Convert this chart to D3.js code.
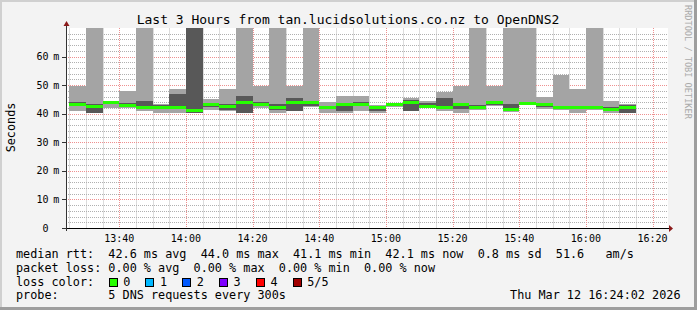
<!DOCTYPE html>
<html>
<head>
    <meta charset="utf-8">
    <title>SmokePing - OpenDNS2</title>
    <script src="https://cdn.jsdelivr.net/npm/d3@7/dist/d3.min.js"></script>
    <style>
        body { margin: 0; background: #ffffff; }
        svg text { font-family: "DejaVu Sans Mono", monospace; white-space: pre; }
    </style>
</head>
<body>
    <svg width="697" height="310" id="mainsvg"></svg>
    <script>
        // 5 minute bins, start time of each bin
        const binTimes = ['13:25', '13:30', '13:35', '13:40', '13:45', '13:50', '13:55', '14:00', '14:05', '14:10',
            '14:15', '14:20', '14:25', '14:30', '14:35', '14:40', '14:45', '14:50', '14:55', '15:00',
            '15:05', '15:10', '15:15', '15:20', '15:25', '15:30', '15:35', '15:40', '15:45', '15:50',
            '15:55', '16:00', '16:05', '16:10'];
        // grid times
        const minorTimes = ['13:25', '13:30', '13:35', '13:45', '13:50', '13:55', '14:05', '14:10', '14:15', '14:25',
            '14:30', '14:35', '14:45', '14:50', '14:55', '15:05', '15:10', '15:15', '15:25', '15:30', '15:35',
            '15:45', '15:50', '15:55', '16:05', '16:10', '16:15'];
        const majorTimes = ['13:40', '14:00', '14:20', '14:40', '15:00', '15:20', '15:40', '16:00', '16:20'];
        // sorted pings per bin (ms); 80 = above the top of the graph
        const ping1 = [41.0, 40.3, 42.0, 42.0, 41.0, 40.2, 40.2, 40.1, 41.2, 41.0, 40.1, 41.9, 40.2, 41.0, 42.2, 40.2, 40.2,
            41.0, 40.2, 42.3, 41.0, 42.0, 41.0, 40.2, 41.3, 42.7, 40.6, 43.0, 41.6, 41.3, 40.2, 41.4, 40.4, 40.2];
        const ping2 = [42.9, 40.4, 43.5, 42.3, 41.8, 41.8, 41.9, 40.2, 42.5, 41.3, 40.4, 42.8, 41.4, 41.1, 42.6, 41.9, 41.0,
            42.8, 41.0, 42.8, 41.1, 42.2, 41.7, 41.5, 41.7, 43.2, 40.8, 43.1, 42.3, 41.9, 41.6, 41.9, 40.8, 40.3];
        const medianRtt = [43.3, 42.5, 44.0, 43.0, 42.1, 42.1, 42.1, 41.1, 43.2, 42.4, 44.0, 43.1, 42.3, 44.0, 44.0, 42.2, 43.2,
            43.3, 42.3, 43.1, 44.0, 42.6, 42.2, 43.2, 42.1, 44.0, 41.5, 43.5, 43.1, 42.1, 42.1, 42.1, 41.4, 42.1];
        const ping4 = [44.2, 43.3, 44.4, 43.8, 44.3, 43.0, 47.0, 80, 43.5, 43.5, 46.3, 44.1, 43.5, 45.4, 44.3, 42.6, 43.8,
            44.0, 42.8, 43.5, 44.9, 43.7, 45.4, 43.6, 42.9, 44.5, 43.3, 44.2, 43.3, 42.8, 42.6, 42.8, 42.4, 43.2];
        const ping5 = [49.8, 80, 44.6, 47.8, 80, 43.3, 48.8, 80, 45.3, 48.8, 80, 49.8, 80, 49.8, 80, 44.2, 46.3,
            46.3, 43.0, 43.8, 45.4, 44.5, 47.5, 49.8, 80, 49.8, 80, 80, 45.8, 53.7, 48.8, 80, 44.3, 43.3];

        const yTicks = [0, 10, 20, 30, 40, 50, 60];
        const medianStats = [42.6, 44.0, 41.1, 42.1]; // avg max min now
        const lossStats = [0, 0, 0, 0];
        const lossLabels = ['0', '1', '2', '3', '4', '5/5'];
        const lossColors = ['#26ff00', '#00b8ff', '#0059ff', '#7e00ff', '#ff0000', '#a10000'];

        const svg = d3.select('#mainsvg');
        const width = +svg.attr('width');
        const height = +svg.attr('height');
        const plot = { left: 66, right: 666, top: 28, bottom: 228 };
        const day = '2026-03-12 ';
        const parse = d3.timeParse('%Y-%m-%d %H:%M:%S');
        const at = hm => parse(day + hm + ':00');
        const tEnd = parse(day + '16:24:02');
        const tStart = parse(day + '13:24:02');

        const xScale = d3.scaleTime().domain([tStart, tEnd]).range([plot.left, plot.right]);
        const yScale = d3.scaleLinear().domain([0, 70]).range([plot.bottom, plot.top]);

        // canvas + 3d frame
        svg.append('rect').attr('width', width).attr('height', height).attr('fill', '#f3f3f3');
        svg.append('path').attr('d', `M1,${height} V1 H${width}`).attr('fill', 'none')
            .attr('stroke', '#d0d0d0').attr('stroke-width', 2);
        svg.append('path').attr('d', `M0,${height - 1.5} H${width - 1.5} V0`).attr('fill', 'none')
            .attr('stroke', '#9e9e9e').attr('stroke-width', 3);

        svg.append('rect')
            .attr('x', plot.left).attr('y', plot.top)
            .attr('width', plot.right - plot.left + 2).attr('height', plot.bottom - plot.top)
            .attr('fill', '#ffffff');

        svg.append('clipPath').attr('id', 'plotclip').append('rect')
            .attr('x', plot.left).attr('y', plot.top)
            .attr('width', plot.right - plot.left).attr('height', plot.bottom - plot.top);

        // grid (minor every 5 min / 2 ms, major every 20 min / 10 ms)
        const minorT = minorTimes.map(at);
        const majorT = majorTimes.map(at);
        const minorY = d3.range(2, 70, 2).filter(v => v % 10 !== 0);
        const majorY = yTicks.filter(v => v > 0);

        const grid = svg.append('g').attr('fill', 'none').attr('stroke-width', 1).attr('shape-rendering', 'crispEdges');
        const vPath = times => times.map(t => `M${Math.round(xScale(t)) + 0.5},${plot.top}V${plot.bottom}`).join('');
        const hPath = values => values.map(v => `M${plot.left},${Math.round(yScale(v)) + 0.5}H${plot.right + 2}`).join('');
        grid.append('path').attr('d', vPath(minorT)).attr('stroke', '#dcdcdc');
        grid.append('path').attr('d', hPath(minorY)).attr('stroke', '#b0b0b0').attr('stroke-dasharray', '1 1');
        grid.append('path').attr('d', hPath(majorY) + vPath(majorT)).attr('stroke', '#ee9090').attr('stroke-dasharray', '1 1');

        // smoke + median
        const bins = binTimes.map((t, i) => ({
            t0: at(t),
            t1: d3.timeMinute.offset(at(t), 5),
            p1: ping1[i], p2: ping2[i], med: medianRtt[i], p4: ping4[i], p5: ping5[i]
        }));
        const data = svg.append('g').attr('clip-path', 'url(#plotclip)').attr('shape-rendering', 'crispEdges');
        const bx = d => Math.round(xScale(d.t0));
        const bw = d => Math.round(xScale(d.t1)) - Math.round(xScale(d.t0));

        data.selectAll('.outer').data(bins).join('rect').attr('class', 'outer')
            .attr('x', bx).attr('width', bw)
            .attr('y', d => Math.round(yScale(d.p5)))
            .attr('height', d => Math.round(yScale(d.p1)) - Math.round(yScale(d.p5)))
            .attr('fill', '#a4a4a4');
        data.selectAll('.inner').data(bins).join('rect').attr('class', 'inner')
            .attr('x', bx).attr('width', bw)
            .attr('y', d => Math.round(yScale(d.p4)))
            .attr('height', d => Math.round(yScale(d.p2)) - Math.round(yScale(d.p4)))
            .attr('fill', '#585858');
        data.selectAll('.median').data(bins).join('rect').attr('class', 'median')
            .attr('x', bx).attr('width', bw)
            .attr('y', d => Math.round(yScale(d.med) - 1.5))
            .attr('height', 3)
            .attr('fill', lossColors[0]);

        // axes
        const axes = svg.append('g').attr('shape-rendering', 'crispEdges');
        axes.append('line').attr('x1', plot.left - 3).attr('x2', plot.right + 3)
            .attr('y1', plot.bottom + 0.5).attr('y2', plot.bottom + 0.5).attr('stroke', '#000');
        axes.append('line').attr('x1', plot.left + 0.5).attr('x2', plot.left + 0.5)
            .attr('y1', plot.bottom + 3).attr('y2', plot.top - 2).attr('stroke', '#333');
        axes.selectAll('.ytick').data(yTicks).join('line').attr('class', 'ytick')
            .attr('x1', plot.left - 4).attr('x2', plot.left)
            .attr('y1', d => Math.round(yScale(d)) + 0.5).attr('y2', d => Math.round(yScale(d)) + 0.5)
            .attr('stroke', '#333');
        svg.append('path')
            .attr('d', `M${plot.right + 3},${plot.bottom - 3} L${plot.right + 7},${plot.bottom + 0.5} L${plot.right + 3},${plot.bottom + 4} Z`)
            .attr('fill', '#8b1a1a');
        svg.append('path')
            .attr('d', `M${plot.left - 2.5},${plot.top - 2} L${plot.left + 0.5},${plot.top - 7} L${plot.left + 3.5},${plot.top - 2} Z`)
            .attr('fill', '#8b1a1a');

        const yLab = svg.append('g').attr('font-size', '10px').attr('fill', '#000');
        yLab.selectAll('.yv').data(yTicks).join('text').attr('class', 'yv')
            .attr('x', 48.5).attr('y', d => yScale(d) + 3.5)
            .attr('text-anchor', 'end').text(d => d);
        yLab.selectAll('.yu').data(yTicks.filter(v => v > 0)).join('text').attr('class', 'yu')
            .attr('x', 53.3).attr('y', d => yScale(d) + 3.5).text('m');

        svg.append('g').attr('font-size', '10px').attr('fill', '#000')
            .selectAll('text').data(majorT).join('text')
            .attr('x', d => xScale(d)).attr('y', 241.5)
            .attr('text-anchor', 'middle')
            .text(d3.timeFormat('%H:%M'));

        // titles
        svg.append('text').attr('x', 348).attr('y', 24).attr('text-anchor', 'middle')
            .attr('font-size', '13px').attr('fill', '#000')
            .text('Last 3 Hours from tan.lucidsolutions.co.nz to OpenDNS2');
        svg.append('text').attr('transform', 'translate(14.5,127.5) rotate(-90)')
            .attr('text-anchor', 'middle').attr('font-size', '11.8px').attr('fill', '#000')
            .text('Seconds');
        svg.append('text').attr('transform', 'translate(684.5,5) rotate(90)')
            .attr('font-size', '8.6px').attr('fill', '#aaaaaa')
            .text('RRDTOOL / TOBI OETIKER');

        // legend
        const f1 = d3.format('.1f'), f2 = d3.format('.2f');
        const legend = svg.append('g').attr('font-size', '11.8px').attr('fill', '#000');
        const lines = [
            `median rtt:  ${f1(medianStats[0])} ms avg  ${f1(medianStats[1])} ms max  ${f1(medianStats[2])} ms min  ${f1(medianStats[3])} ms now  0.8 ms sd  51.6   am/s`,
            `packet loss: ${f2(lossStats[0])} % avg  ${f2(lossStats[1])} % max  ${f2(lossStats[2])} % min  ${f2(lossStats[3])} % now`,
            'loss color:',
            'probe:       5 DNS requests every 300s'
        ];
        legend.selectAll('.lg').data(lines).join('text').attr('class', 'lg')
            .attr('xml:space', 'preserve')
            .attr('x', 16).attr('y', (d, i) => 258 + i * 13.8)
            .text(d => d);
        legend.append('text').attr('x', 680.5).attr('y', 299.4).attr('text-anchor', 'end')
            .text('Thu Mar 12 16:24:02 2026');

        const lossItems = legend.selectAll('.loss').data(lossLabels).join('g').attr('class', 'loss')
            .attr('transform', (d, i) => `translate(${108.5 + i * 36.8},278)`);
        lossItems.append('rect').attr('x', 0.5).attr('y', 0.5).attr('width', 8).attr('height', 8)
            .attr('fill', (d, i) => lossColors[i]).attr('stroke', '#000').attr('shape-rendering', 'crispEdges');
        lossItems.append('text').attr('x', 14.7).attr('y', 8).text(d => d);
    </script>
</body>
</html>
